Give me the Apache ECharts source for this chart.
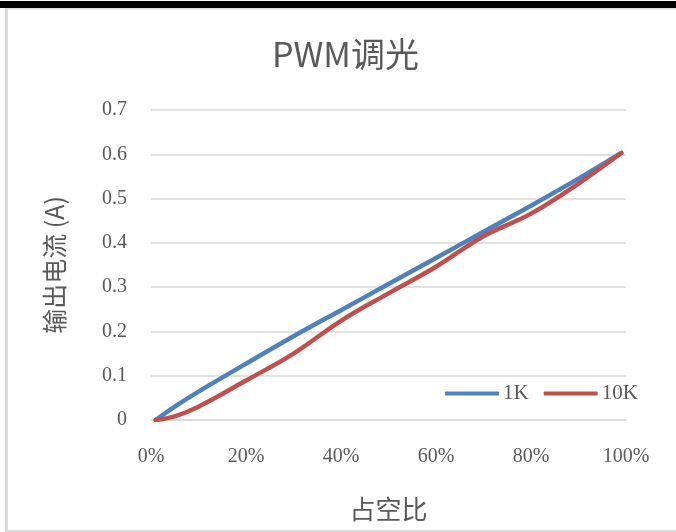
<!DOCTYPE html>
<html>
<head>
<meta charset="utf-8">
<script src="https://cdn.jsdelivr.net/npm/echarts@6/dist/echarts.min.js"></script>
<style>
html,body{margin:0;padding:0;background:#fff;}
#c{width:676px;height:532px;}
</style>
</head>
<body>
<div id="c"></div>
<script>
const titleText = 'PWM调光';
const xAxisName = '占空比';
const yAxisName = '输出电流 (A)';
const seriesNames = ['1K', '10K'];
const dutyCycle = [1, 5, 10, 20, 30, 40, 50, 60, 70, 80, 90, 99];
const current1K = [0, 0.030, 0.064, 0.127, 0.189, 0.248, 0.307, 0.366, 0.425, 0.484, 0.545, 0.603];
const current10K = [0, 0.008, 0.030, 0.089, 0.150, 0.224, 0.286, 0.346, 0.415, 0.466, 0.534, 0.603];
const xTicks = { min: 0, max: 100, interval: 20 };
const yTicks = { min: 0, max: 0.7, interval: 0.1 };

const pairs = (xs, ys) => xs.map((x, i) => [x, ys[i]]);
const labelColor = '#595959';
const gridColor = '#d9d9d9';
const serif = '"Liberation Serif", "DejaVu Serif", serif';
const cjk = '"Noto Sans CJK SC", "Noto Sans", sans-serif';

const chart = echarts.init(document.getElementById('c'), null, { renderer: 'canvas' });
chart.setOption({
  backgroundColor: '#ffffff',
  animation: false,
  title: {
    text: titleText,
    left: 267,
    top: 32,
    textStyle: { fontFamily: cjk, fontSize: 34, fontWeight: 'normal', color: labelColor }
  },
  legend: {
    data: seriesNames,
    left: 440,
    top: 378,
    icon: 'roundRect',
    itemWidth: 54,
    itemHeight: 4,
    itemGap: 15,
    textStyle: { fontFamily: serif, fontSize: 21, color: labelColor, padding: [0, 0, 0, -1] }
  },
  grid: { left: 151, right: 50, top: 110, bottom: 112, containLabel: false },
  xAxis: {
    type: 'value',
    min: xTicks.min, max: xTicks.max, interval: xTicks.interval,
    name: xAxisName,
    nameLocation: 'middle',
    nameGap: 76,
    nameTextStyle: { fontFamily: cjk, fontSize: 26, color: labelColor },
    axisLine: { show: true, lineStyle: { color: gridColor, width: 1.5 } },
    axisTick: { show: false },
    splitLine: { show: false },
    axisLabel: { formatter: '{value}%', fontFamily: serif, fontSize: 20, color: labelColor, margin: 27 }
  },
  yAxis: {
    type: 'value',
    min: yTicks.min, max: yTicks.max, interval: yTicks.interval,
    name: yAxisName,
    nameLocation: 'middle',
    nameGap: 84,
    nameTextStyle: { fontFamily: cjk, fontSize: 25, color: labelColor },
    axisLine: { show: false },
    axisTick: { show: false },
    splitLine: { show: true, lineStyle: { color: gridColor, width: 1.5 } },
    axisLabel: { fontFamily: serif, fontSize: 20, color: labelColor, margin: 24 }
  },
  series: [
    {
      name: seriesNames[0], type: 'line', smooth: 0.3, symbol: 'none',
      data: pairs(dutyCycle, current1K),
      lineStyle: { color: '#4F81BD', width: 4.5, cap: 'round', join: 'round' },
      itemStyle: { color: '#4F81BD' }
    },
    {
      name: seriesNames[1], type: 'line', smooth: 0.4, symbol: 'none',
      data: pairs(dutyCycle, current10K),
      lineStyle: { color: '#C0504D', width: 4.5, cap: 'round', join: 'round' },
      itemStyle: { color: '#C0504D' }
    }
  ],
  graphic: [
    { type: 'rect', shape: { x: 0, y: 1, width: 676, height: 7 }, style: { fill: '#000' }, silent: true },
    { type: 'rect', shape: { x: 5, y: 8, width: 671, height: 1.5 }, style: { fill: '#dcdcdc' }, silent: true },
    { type: 'rect', shape: { x: 5, y: 8, width: 3, height: 524 }, style: { fill: '#dcdcdc' }, silent: true },
    { type: 'rect', shape: { x: 5, y: 530, width: 671, height: 2 }, style: { fill: '#dcdcdc' }, silent: true }
  ]
});
</script>
</body>
</html>
